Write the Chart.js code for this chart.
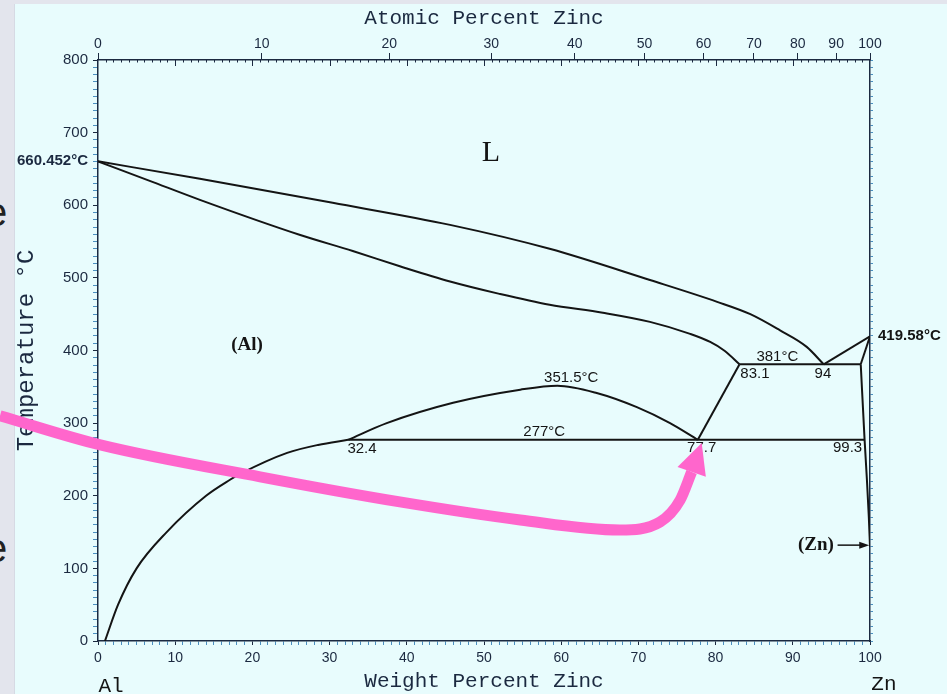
<!DOCTYPE html>
<html>
<head>
<meta charset="utf-8">
<script src="https://cdn.jsdelivr.net/npm/chart.js@4.4.1/dist/chart.umd.min.js"></script>
<style>
    html, body { margin: 0; padding: 0; background: #e8fcfd; }
    #wrap { position: relative; width: 947px; height: 694px; overflow: hidden; background: #e8fcfd; }
    #strip { position: absolute; left: 0; top: 0; width: 14px; height: 694px; background: #e3e5ed; border-right: 1px solid #d6dae4; }
    #topstrip { position: absolute; left: 0; top: 0; width: 947px; height: 4px; background: #e3e5ed; }
    .slide-e { position: absolute; left: -15px; font: 40px "Liberation Sans", sans-serif; color: #222; line-height: 1; }
    #chart { position: absolute; left: 0; top: 0; }
</style>
</head>
<body>
<div id="wrap">
    <div id="strip"></div>
    <div id="topstrip"></div>
    <div class="slide-e" style="top: 192px;">e</div>
    <div class="slide-e" style="top: 528px;">e</div>
    <canvas id="chart" width="947" height="694"></canvas>
</div>
<script>
// Al-Zn phase diagram, weight percent Zn vs temperature (°C)
const liquidusW = [0, 13.2, 30.4, 45.6, 58.5, 71.5, 80.2, 84.5, 88.3, 91.8, 94];
const liquidusT = [660.452, 636.4, 603.3, 573, 540, 497, 467, 450, 428, 405, 381];

const solidusW = [0, 6.7, 13.2, 26.2, 33, 39.1, 45.6, 52, 58.5, 65.4, 71.5, 76.7, 79.3, 81.2, 83.1];
const solidusT = [660.452, 633.6, 607.4, 559, 537, 516, 495, 478, 463, 452, 439.4, 422.9, 411.8, 399.4, 381];

const solvusW = [0.9, 2.6, 5.0, 8.9, 14.0, 17.1, 18.4, 24.5, 28.5, 32.4];
const solvusT = [0, 50, 100, 150, 200, 222, 230, 259, 270, 277];

const domeW = [32.4, 37.4, 46, 54.7, 59.5, 64.6, 69.8, 74.1, 77.7];
const domeT = [277, 300, 328, 346, 351.5, 341.5, 322, 300, 277];

const alBoundaryW = [83.1, 77.7];
const alBoundaryT = [381, 277];

const eutecticW = [83.1, 98.8];
const eutecticT = [381, 381];

const eutectoidW = [32.4, 99.3];
const eutectoidT = [277, 277];

const znLiquidusW = [94, 100];
const znLiquidusT = [381, 419.58];

const znSolidusW = [98.8, 100];
const znSolidusT = [381, 419.58];

const znSolvusW = [98.8, 99.3, 99.6, 99.85, 100];
const znSolvusT = [381, 277, 222, 170, 130];

// pink annotation arrow (added on the slide)
const arrowW = [-12.7, 0.3, 21, 39.1, 54.7, 67.6, 72.8, 75.4, 76.9];
const arrowT = [310, 270, 226, 191.5, 166.7, 152.9, 163.9, 194, 232.8];
const arrowTip = { w: 78.2, t: 272.7 };

// axis ticks
const atomicTicks = [0, 10, 20, 30, 40, 50, 60, 70, 80, 90, 100];
const meltAl = 660.452;
const meltZn = 419.58;

const AL_MASS = 26.98;
const ZN_MASS = 65.38;
function atomicToWeight(a) {
    return a * ZN_MASS / (a * ZN_MASS + (100 - a) * AL_MASS) * 100;
}

function pts(ws, ts) {
    return ws.map((w, i) => ({ x: w, y: ts[i] }));
}

function curve(ws, ts, smooth) {
    return {
        data: pts(ws, ts),
        borderColor: '#141414',
        borderWidth: 2,
        pointRadius: 0,
        fill: false,
        cubicInterpolationMode: smooth ? 'monotone' : 'default',
        tension: 0
    };
}

const INK = '#1b2940';
const TICK_BLUE = '#4a8fc0';

const annotationsPlugin = {
    id: 'annotations',
    afterDatasetsDraw(chart) {
        const { ctx, scales: { x, y } } = chart;
        const labels = [
            { text: 'L', w: 50.9, t: 672, font: '30px "Liberation Serif"' },
            { text: '(Al)', w: 19.3, t: 407.7, font: 'bold 19px "Liberation Serif"' },
            { text: '351.5°C', w: 61.3, t: 362, font: '15px "Liberation Sans"' },
            { text: '381°C', w: 88, t: 391, font: '15px "Liberation Sans"' },
            { text: '83.1', w: 85.1, t: 367.8, font: '15px "Liberation Sans"' },
            { text: '94', w: 93.9, t: 367.8, font: '15px "Liberation Sans"' },
            { text: '277°C', w: 57.8, t: 288, font: '15px "Liberation Sans"' },
            { text: '32.4', w: 34.2, t: 264.5, font: '15px "Liberation Sans"' },
            { text: '77.7', w: 78.2, t: 265.5, font: '15px "Liberation Sans"' },
            { text: '99.3', w: 97.1, t: 265.5, font: '15px "Liberation Sans"' },
            { text: '(Zn)', w: 93, t: 132, font: 'bold 19px "Liberation Serif"' },
            { text: 'Al', w: 1.7, t: -62, font: '21px "Liberation Mono"' },
            { text: 'Zn', w: 101.8, t: -60, font: '21px "Liberation Mono"' }
        ];
        ctx.save();
        ctx.fillStyle = '#141414';
        ctx.textAlign = 'center';
        ctx.textBaseline = 'middle';
        labels.forEach(l => {
            ctx.font = l.font;
            ctx.fillText(l.text, x.getPixelForValue(l.w), y.getPixelForValue(l.t));
        });

        // (Zn) pointer
        const zy = y.getPixelForValue(132);
        const zx0 = x.getPixelForValue(95.8);
        const zx1 = x.getPixelForValue(99.9);
        ctx.strokeStyle = '#141414';
        ctx.lineWidth = 1.5;
        ctx.beginPath();
        ctx.moveTo(zx0, zy);
        ctx.lineTo(zx1 - 6, zy);
        ctx.stroke();
        ctx.beginPath();
        ctx.moveTo(zx1, zy);
        ctx.lineTo(zx1 - 10, zy - 3.5);
        ctx.lineTo(zx1 - 10, zy + 3.5);
        ctx.closePath();
        ctx.fill();

        // inward ticks along the top edge
        const top = chart.chartArea.top;
        ctx.strokeStyle = INK;
        ctx.lineWidth = 1;
        for (let w = 1; w < 100; w++) {
            const px = Math.round(x.getPixelForValue(w)) + 0.5;
            ctx.beginPath();
            ctx.moveTo(px, top);
            ctx.lineTo(px, top + (w % 10 === 0 ? 6 : 2.5));
            ctx.stroke();
        }

        // pink arrow head
        const meta = chart.getDatasetMeta(0);
        const last = meta.data[meta.data.length - 1];
        const tx = x.getPixelForValue(arrowTip.w);
        const ty = y.getPixelForValue(arrowTip.t);
        const dx = tx - last.x, dy = ty - last.y;
        const len = Math.hypot(dx, dy);
        const nx = -dy / len, ny = dx / len;
        ctx.fillStyle = '#ff66cc';
        ctx.beginPath();
        ctx.moveTo(tx, ty);
        ctx.lineTo(last.x + nx * 15, last.y + ny * 15);
        ctx.lineTo(last.x - nx * 15, last.y - ny * 15);
        ctx.closePath();
        ctx.fill();
        ctx.restore();
    }
};

const datasets = [
    {
        data: pts(arrowW, arrowT),
        borderColor: '#ff66cc',
        borderWidth: 11,
        pointRadius: 0,
        fill: false,
        cubicInterpolationMode: 'monotone',
        borderCapStyle: 'butt',
        clip: false
    },
    curve(liquidusW, liquidusT, true),
    curve(solidusW, solidusT, true),
    curve(solvusW, solvusT, true),
    curve(domeW, domeT, true),
    curve(alBoundaryW, alBoundaryT, false),
    curve(eutecticW, eutecticT, false),
    curve(eutectoidW, eutectoidT, false),
    curve(znLiquidusW, znLiquidusT, false),
    curve(znSolidusW, znSolidusT, false),
    curve(znSolvusW, znSolvusT, true)
];

const tickFont = { family: 'Liberation Sans', size: 14 };
const yTickFont = { family: 'Liberation Sans', size: 15 };

new Chart(document.getElementById('chart'), {
    type: 'line',
    data: { datasets: datasets },
    options: {
        responsive: false,
        animation: false,
        layout: { padding: 0 },
        plugins: {
            legend: { display: false },
            tooltip: { enabled: false }
        },
        scales: {
            x: {
                type: 'linear',
                position: 'bottom',
                min: 0,
                max: 100,
                afterFit: s => { s.height = 53; },
                ticks: {
                    stepSize: 1,
                    autoSkip: false,
                    maxRotation: 0,
                    padding: 5,
                    color: INK,
                    font: tickFont,
                    callback: v => (v % 10 === 0 ? v : '')
                },
                grid: {
                    drawOnChartArea: false,
                    tickLength: 4,
                    tickColor: ctx => (ctx.tick && ctx.tick.value % 10 === 0 ? INK : TICK_BLUE)
                },
                border: { color: INK, width: 1.5 },
                title: {
                    display: true,
                    text: 'Weight Percent Zinc',
                    color: INK,
                    font: { family: 'Liberation Mono', size: 21 },
                    padding: { top: 0, bottom: 0 }
                }
            },
            x2: {
                type: 'linear',
                position: 'top',
                min: 0,
                max: 100,
                afterFit: s => { s.height = 60; },
                afterBuildTicks: s => {
                    s.ticks = atomicTicks.map(a => ({ value: atomicToWeight(a) }));
                },
                ticks: {
                    autoSkip: false,
                    maxRotation: 0,
                    padding: 0,
                    color: INK,
                    font: tickFont,
                    callback: (v, i) => atomicTicks[i]
                },
                grid: { drawOnChartArea: false, tickLength: 7, tickColor: INK },
                border: { color: INK, width: 1.5 },
                title: {
                    display: true,
                    text: 'Atomic Percent Zinc',
                    color: INK,
                    font: { family: 'Liberation Mono', size: 21 },
                    padding: { top: 6, bottom: 0 }
                }
            },
            y: {
                type: 'linear',
                position: 'left',
                min: 0,
                max: 800,
                afterFit: s => { s.width = 98; },
                afterBuildTicks: s => {
                    s.ticks.push({ value: meltAl });
                    s.ticks.sort((a, b) => a.value - b.value);
                },
                ticks: {
                    stepSize: 10,
                    autoSkip: false,
                    padding: 5,
                    color: INK,
                    font: ctx => (ctx.tick && ctx.tick.value === meltAl
                        ? { family: 'Liberation Sans', size: 15, weight: 'bold' }
                        : yTickFont),
                    callback: v => (v === meltAl ? '660.452°C' : (v % 100 === 0 ? v : ''))
                },
                grid: {
                    drawOnChartArea: false,
                    tickLength: 5,
                    tickColor: ctx => (ctx.tick && ctx.tick.value % 100 === 0 ? INK : TICK_BLUE)
                },
                border: { color: INK, width: 1.5 },
                title: {
                    display: true,
                    text: 'Temperature °C',
                    color: INK,
                    font: { family: 'Liberation Mono', size: 24 },
                    padding: { top: 12, bottom: 0 }
                }
            },
            y2: {
                type: 'linear',
                position: 'right',
                min: 0,
                max: 800,
                afterFit: s => { s.width = 77; },
                afterBuildTicks: s => {
                    s.ticks.push({ value: meltZn });
                    s.ticks.sort((a, b) => a.value - b.value);
                },
                ticks: {
                    stepSize: 10,
                    autoSkip: false,
                    padding: 5,
                    color: '#141414',
                    font: { family: 'Liberation Sans', size: 15, weight: 'bold' },
                    callback: v => (v === meltZn ? '419.58°C' : '')
                },
                grid: {
                    drawOnChartArea: false,
                    tickLength: 3,
                    tickColor: ctx => (ctx.tick && ctx.tick.value === meltZn ? 'rgba(0,0,0,0)' : TICK_BLUE)
                },
                border: { color: INK, width: 1.5 }
            }
        }
    },
    plugins: [annotationsPlugin]
});
</script>
</body>
</html>
